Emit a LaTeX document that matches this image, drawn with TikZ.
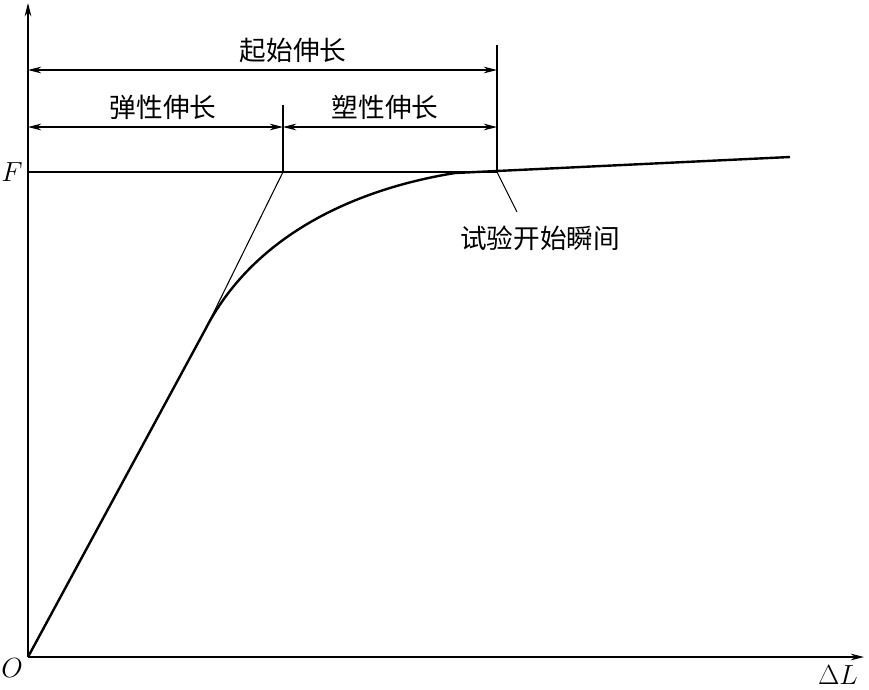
\documentclass[tikz,border=0pt]{standalone}
\usepackage{fontspec}
\newfontfamily\cjk{Noto Sans CJK SC}
\usetikzlibrary{arrows.meta}
\begin{document}
\begin{tikzpicture}[x=0.75pt,y=-0.75pt,
  thin/.style={line width=0.8pt},
  thick/.style={line width=1.8pt},
  ax/.style={line width=0.8pt,-{Stealth[length=10pt,width=5pt]}},
  dim/.style={line width=0.8pt,{Stealth[length=10pt,width=5pt]}-{Stealth[length=10pt,width=5pt]}},
  lab/.style={font=\cjk\fontsize{20}{22}\selectfont},
  it/.style={font=\fontsize{20}{22}\selectfont}]
\useasboundingbox (0,0) rectangle (869,690);
\coordinate (O) at (28,657);
\coordinate (Y) at (28,3);
\coordinate (X) at (864,657);
\coordinate (T) at (205,330);
\coordinate (E) at (283,172);
\coordinate (S) at (497,172);
\coordinate (K) at (455,173);
\draw[ax] (O) -- (Y);
\draw[ax] (O) -- (X);
\draw[thin] (28,172) -- (S);
\draw[thick] (O) -- (T) .. controls (252,238) and (350,190) .. (K) -- (790,157);
\draw[thin] (T) -- (E);
\draw[thin] (E) -- (283,105);
\draw[thin] (S) -- (497,45);
\draw[dim] (28,70) -- (497,70);
\draw[dim] (28,127) -- (283,127);
\draw[dim] (283,127) -- (497,127);
\draw[thin] (S) -- (517,212);
\node[lab] (a) at (293,50) {起始伸长};
\node[lab] (b) at (163,107) {弹性伸长};
\node[lab] (c) at (385,107) {塑性伸长};
\node[lab] (d) at (540,238) {试验开始瞬间};
\node[it] (f) at (12,172) {$F$};
\node[it] (o) at (12,668) {$O$};
\node[it] (l) at (838,675) {$\Delta L$};
\end{tikzpicture}
\end{document}
